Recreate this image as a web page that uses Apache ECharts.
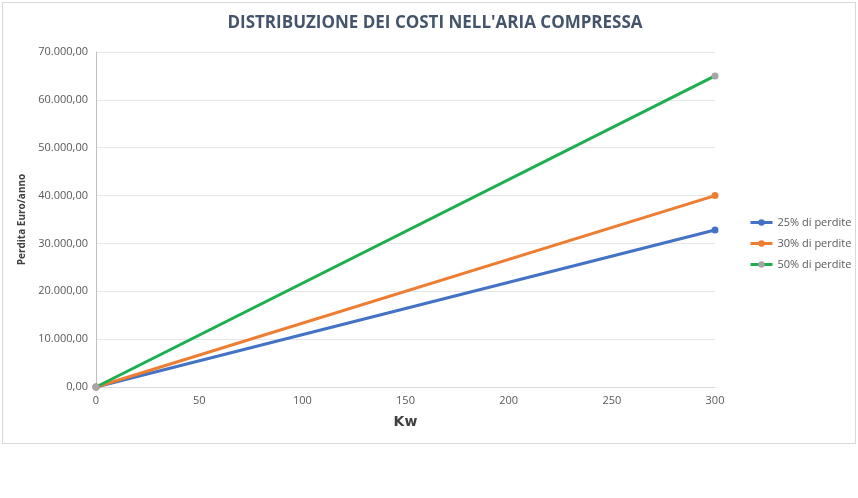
<!DOCTYPE html>
<html><head><meta charset="utf-8">
<script src="https://cdn.jsdelivr.net/npm/echarts@6/dist/echarts.min.js"></script>
<style>html,body{margin:0;padding:0;background:#fff}#frame{position:absolute;left:2px;top:2px;width:852px;height:440px;border:1px solid #d9d9d9}#c{width:858px;height:498px}</style>
</head><body><div id="frame"></div><div id="c"></div>
<script>
const xValues = [0, 300];
const seriesNames = ['25% di perdite', '30% di perdite', '50% di perdite'];
const s25 = [0, 32800];
const s30 = [0, 40000];
const s50 = [0, 65000];
const lineColors = ['#4472C4', '#ED7D31', '#1DAF4F'];
const markerColors = ['#4472C4', '#ED7D31', '#A5A5A5'];
const data = [s25, s30, s50];
const fmt = v => { const s = Math.round(v).toString().replace(/\B(?=(\d{3})+(?!\d))/g, '.'); return s + ',00'; };
const chart = echarts.init(document.getElementById('c'));
chart.setOption({
  animation: false,
  title: { text: "DISTRIBUZIONE DEI COSTI NELL'ARIA COMPRESSA", left: 430, textAlign: 'center', top: 10,
    textStyle: { fontFamily: 'Open Sans', fontSize: 17, fontWeight: 'bold', color: '#44546A' } },
  grid: { left: 96, right: 143, top: 52, bottom: 111 },
  legend: { orient: 'vertical', left: 744, top: 212, itemGap: 10, itemWidth: 22, itemHeight: 8,
    textStyle: { fontFamily: 'Open Sans', fontSize: 11, color: '#595959' },
    data: seriesNames.map((n, i) => ({ name: n, itemStyle: { color: markerColors[i] }, lineStyle: { color: lineColors[i], width: 3 } })) },
  xAxis: { type: 'value', min: 0, max: 300, interval: 50, name: 'Kw', nameLocation: 'middle', nameGap: 28,
    nameTextStyle: { fontFamily: 'DejaVu Sans', fontSize: 14, fontWeight: 'bold', color: '#404040' },
    axisLine: { show: true, lineStyle: { color: '#d9d9d9' } }, axisTick: { show: false },
    axisLabel: { color: '#595959', fontFamily: 'Open Sans', fontSize: 11 }, splitLine: { show: false } },
  yAxis: { type: 'value', min: 0, max: 70000, interval: 10000, name: 'Perdita Euro/anno', nameLocation: 'middle', nameGap: 66,
    nameTextStyle: { fontFamily: 'Open Sans', fontSize: 10, fontWeight: 'bold', color: '#404040' },
    axisLine: { show: true, lineStyle: { color: '#bfbfbf' } }, axisTick: { show: false },
    axisLabel: { color: '#595959', fontFamily: 'Open Sans', fontSize: 11, formatter: fmt },
    splitLine: { lineStyle: { color: '#e6e6e6' } } },
  series: data.map((d, i) => ({ name: seriesNames[i], type: 'line', data: xValues.map((x, j) => [x, d[j]]),
    symbol: 'circle', symbolSize: 7, lineStyle: { color: lineColors[i], width: 3 }, itemStyle: { color: markerColors[i] } }))
});
</script></body></html>
